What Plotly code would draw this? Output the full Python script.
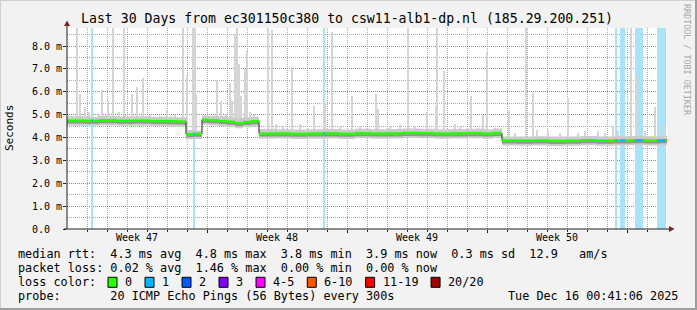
import numpy as np
import plotly.graph_objects as go

# ---------------- data ----------------
title_text = "Last 30 Days from ec301150c380 to csw11-alb1-dp.nl (185.29.200.251)"
y_tick_vals = [0, 1, 2, 3, 4, 5, 6, 7, 8]
y_tick_text = ["0.0\u00a0\u00a0", "1.0 m", "2.0 m", "3.0 m", "4.0 m", "5.0 m", "6.0 m", "7.0 m", "8.0 m"]
week_pos = [3.5, 10.5, 17.5, 24.5]
week_labels = ["Week 47", "Week 48", "Week 49", "Week 50"]
week_lines = [7, 14, 21, 28]
day_lines = [d for d in range(1, 30) if d % 7 != 0]

# median rtt (ms) as step changes, day offsets from start of range
med_day = [0, 0.8, 1.6, 2.5, 3.4, 4.2, 5.0, 5.5,
           5.95, 6.3,
           6.75, 7.1, 7.6, 8.0, 8.4, 8.8, 9.2,
           9.6, 10.4, 11.2, 12.0, 12.8, 13.6, 14.4, 15.2, 16.0, 16.8, 17.6, 18.4, 19.2, 20.0, 20.8, 21.3,
           21.75, 22.5, 23.3, 24.1, 24.9, 25.7, 26.5, 27.3, 28.1, 28.9, 29.7,
           30]
med_ms = [4.74, 4.73, 4.75, 4.73, 4.74, 4.72, 4.71, 4.70,
          4.14, 4.16,
          4.78, 4.75, 4.72, 4.69, 4.63, 4.68, 4.71,
          4.17, 4.18, 4.16, 4.17, 4.18, 4.16, 4.19, 4.17, 4.18, 4.20, 4.19, 4.17, 4.18, 4.19, 4.17, 4.20,
          3.87, 3.86, 3.87, 3.85, 3.86, 3.88, 3.86, 3.87, 3.88, 3.87, 3.88,
          3.88]
smoke_hi = [4.93, 4.91, 4.94, 4.92, 4.93, 4.91, 4.89, 4.89,
            4.33, 4.31,
            4.96, 4.94, 4.93, 4.89, 4.86, 4.89, 4.91,
            4.37, 4.36, 4.35, 4.36, 4.37, 4.35, 4.38, 4.36, 4.37, 4.39, 4.38, 4.36, 4.37, 4.38, 4.36, 4.39,
            4.05, 4.04, 4.06, 4.04, 4.05, 4.07, 4.05, 4.06, 4.07, 4.06, 4.08,
            4.08]
smoke_lo = [4.52, 4.51, 4.53, 4.51, 4.52, 4.50, 4.49, 4.48,
            3.92, 3.94,
            4.56, 4.53, 4.50, 4.47, 4.41, 4.46, 4.49,
            3.95, 3.96, 3.94, 3.95, 3.96, 3.94, 3.97, 3.95, 3.96, 3.98, 3.97, 3.95, 3.96, 3.97, 3.95, 3.98,
            3.65, 3.64, 3.65, 3.63, 3.64, 3.66, 3.64, 3.65, 3.66, 3.65, 3.66,
            3.66]
dark_lo = [4.61, 4.60, 4.62, 4.60, 4.61, 4.59, 4.58, 4.57,
           4.01, 4.03,
           4.65, 4.62, 4.59, 4.56, 4.50, 4.55, 4.58,
           4.04, 4.05, 4.03, 4.04, 4.05, 4.03, 4.06, 4.04, 4.05, 4.07, 4.06, 4.04, 4.05, 4.06, 4.04, 4.07,
           3.74, 3.73, 3.74, 3.72, 3.73, 3.75, 3.73, 3.74, 3.75, 3.74, 3.75,
           3.75]

# max-ping spikes (day, top ms)
spike_day = [0.5, 0.65, 0.93, 1.1, 1.6, 1.75, 1.95, 2.05, 2.3, 2.6, 2.85, 2.9, 3.25, 3.5, 3.8, 4.15,
             4.65, 5.0, 5.2, 5.4, 5.8, 6.0, 6.3, 6.4, 6.45, 7.15, 7.5, 7.7, 7.95, 8.15, 8.25, 8.4,
             8.5, 8.6, 8.7, 8.9, 9.0, 9.15, 9.35, 10.05, 10.25, 10.45, 10.8, 11.25, 11.65, 12.35,
             12.9, 13.25, 13.65, 14.25, 14.65, 15.45, 15.55, 16.15, 16.65, 17.05, 17.4, 18.0, 18.45,
             18.5, 18.85, 19.4, 19.65, 20.2, 20.55, 20.8, 21.0, 21.4, 22.1, 22.4, 22.95, 23.3, 23.5,
             24.05, 24.65, 25.05, 25.55, 25.9, 26.55, 26.9, 27.3, 27.55, 28.2, 28.45, 28.9, 29.4, 29.75]
spike_ms = [9.0, 5.9, 5.35, 5.1, 5.05, 6.1, 5.0, 5.6, 9.0, 5.1, 9.0, 5.0, 5.9, 6.2, 6.6, 5.0,
            4.95, 5.2, 4.95, 5.0, 9.0, 6.75, 9.0, 9.0, 5.9, 4.9, 6.5, 5.6, 5.0, 6.4, 5.6, 8.5,
            9.0, 7.2, 5.8, 7.0, 7.8, 5.1, 5.0, 9.0, 8.7, 4.6, 4.5, 7.1, 4.6, 5.4,
            5.5, 8.6, 4.5, 5.8, 4.5, 5.9, 5.25, 4.5, 4.6, 9.0, 4.5, 5.1, 5.4,
            9.0, 6.9, 4.6, 4.5, 5.8, 4.4, 5.0, 7.7, 4.4, 5.15, 4.2, 9.0, 5.95, 4.35,
            4.3, 4.2, 5.75, 4.2, 4.3, 4.3, 4.2, 4.5, 4.3, 9.0, 6.7, 4.3, 5.35, 4.6]

# periods with 1/20 packet loss
loss_start = [1.22, 6.32, 12.82, 27.42, 27.65, 28.42, 29.50]
loss_end = [1.29, 6.39, 12.89, 27.52, 27.92, 28.79, 29.94]

rtt_vals = [4.3, 4.8, 3.8, 3.9, 0.3]
rtt_names = ["avg", "max", "min", "now", "sd"]
am_s = 12.9
pl_vals = [0.02, 1.46, 0.00, 0.00]
pl_names = ["avg", "max", "min", "now"]
loss_labels = ["0", "1", "2", "3", "4-5", "6-10", "11-19", "20/20"]
loss_colors = ["#26ff00", "#00b8ff", "#0059ff", "#7e00ff", "#ff00ff", "#ff5500", "#ff0000", "#a10000"]
probe_text = "20 ICMP Echo Pings (56 Bytes) every 300s"
stamp_text = "Tue Dec 16 00:41:06 2025"

# ---------------- layout helpers ----------------
FONT = "DejaVu Sans Mono"
W, H = 697, 310
L, R, T, B = 67, 667, 28, 229
YMAX = 8.79


def px(xp):
    return (xp - L) / (R - L)


def py(yp):
    return (B - yp) / (B - T)


def nb(s):
    return s.replace(" ", "\u00a0")


med_day_a = np.array(med_day)
med_ms_a = np.array(med_ms)


def med_at(d):
    i = np.searchsorted(med_day_a, d, side="right") - 1
    return med_ms_a[np.clip(i, 0, len(med_ms_a) - 1)]


fig = go.Figure()

# loss background columns
ls = np.array(loss_start)
le = np.array(loss_end)
fig.add_trace(go.Bar(x=(ls + le) / 2, y=[YMAX] * len(ls), base=0, width=le - ls,
                     marker=dict(color="#a9e3f9", line=dict(width=0)), hoverinfo="skip"))

# spikes
sd = np.array(spike_day)
base = med_at(sd)
fig.add_trace(go.Bar(x=sd, y=np.array(spike_ms) - base, base=base, width=0.075,
                     marker=dict(color="#d5d5d5", line=dict(width=0)), hoverinfo="skip"))

# smoke
fig.add_trace(go.Scatter(x=med_day, y=smoke_lo, mode="lines", line=dict(width=0, shape="hv"),
                         hoverinfo="skip"))
fig.add_trace(go.Scatter(x=med_day, y=smoke_hi, mode="lines", line=dict(width=0, shape="hv"),
                         fill="tonexty", fillcolor="#cbcbcb", hoverinfo="skip"))
fig.add_trace(go.Scatter(x=med_day, y=dark_lo, mode="lines", line=dict(width=0, shape="hv"),
                         hoverinfo="skip"))
fig.add_trace(go.Scatter(x=med_day, y=med_ms, mode="lines", line=dict(width=0, shape="hv"),
                         fill="tonexty", fillcolor="#939393", hoverinfo="skip"))

# median: dark step line, green horizontal parts on top
fig.add_trace(go.Scatter(x=med_day, y=med_ms, mode="lines",
                         line=dict(width=1, shape="hv", color="#222222"), hoverinfo="skip"))
gx, gy = [], []
for i in range(len(med_day) - 1):
    gx += [med_day[i], med_day[i + 1], None]
    gy += [med_ms[i], med_ms[i], None]
fig.add_trace(go.Scatter(x=gx, y=gy, mode="lines", line=dict(width=2.5, color=loss_colors[0]),
                         hoverinfo="skip"))
cx, cy = [], []
for a, b in zip(loss_start, loss_end):
    m = float(med_at(a))
    cx += [a, b, None]
    cy += [m, m, None]
fig.add_trace(go.Scatter(x=cx, y=cy, mode="lines", line=dict(width=2.5, color=loss_colors[1]),
                         hoverinfo="skip"))

GRID = "rgba(143,143,143,0.75)"
MGRID = "rgba(222,79,79,0.6)"

fig.update_layout(
    width=W, height=H, autosize=False,
    margin=dict(l=L, r=W - R, t=T, b=H - B, pad=0),
    paper_bgcolor="#f2f2f2", plot_bgcolor="#ffffff",
    showlegend=False, barmode="overlay", bargap=0,
    font=dict(family=FONT, size=10, color="#000000"),
    title=dict(text=title_text, x=347 / W, y=1 - 18 / H, xanchor="center", yanchor="middle",
               xref="container", yref="container",
               font=dict(family=FONT, size=13.2, color="#000000")),
    xaxis=dict(range=[0, 30], showgrid=False, zeroline=False, showline=False,
               tickvals=week_pos, ticktext=week_labels, showticklabels=False, ticks="",
               minor=dict(tickvals=day_lines, showgrid=True, gridcolor=GRID, griddash="1px,1px",
                          gridwidth=1, ticks="outside", ticklen=2, tickcolor="#1f1f1f")),
    xaxis2=dict(range=[0, 30], overlaying="x", side="bottom", tickvals=week_lines,
                showticklabels=False, showgrid=True, gridcolor=MGRID, griddash="1px,1px",
                gridwidth=1, zeroline=False, showline=False, ticks="outside", ticklen=3,
                tickcolor="#1f1f1f"),
    yaxis=dict(range=[0, YMAX], tickvals=y_tick_vals, ticktext=y_tick_text, showgrid=True,
               gridcolor=MGRID, griddash="1px,1px", gridwidth=1, zeroline=False, showline=False,
               ticks="outside", ticklen=3, tickcolor="#1f1f1f", ticklabelstandoff=-1,
               tickfont=dict(family=FONT, size=10, color="#000000"),
               minor=dict(dtick=0.5, showgrid=True, gridcolor=GRID, griddash="1px,1px", gridwidth=1)),
)
# dummy trace to activate xaxis2
fig.add_trace(go.Scatter(x=[0], y=[0], xaxis="x2", mode="markers", marker=dict(opacity=0),
                         hoverinfo="skip"))

shapes = []
AX = "#1f1f1f"
ARROW = "#801f1f"
shapes.append(dict(type="line", xref="paper", yref="paper", x0=px(L), x1=px(L), y0=py(B), y1=py(24),
                   line=dict(color=AX, width=1)))
shapes.append(dict(type="line", xref="paper", yref="paper", x0=px(L - 3), x1=px(670), y0=py(B), y1=py(B),
                   line=dict(color=AX, width=1)))
shapes.append(dict(type="path", xref="paper", yref="paper",
                   path=f"M {px(L)} {py(20.5)} L {px(L - 3)} {py(26)} L {px(L + 3)} {py(26)} Z",
                   fillcolor=ARROW, line=dict(width=0)))
shapes.append(dict(type="path", xref="paper", yref="paper",
                   path=f"M {px(674.5)} {py(B)} L {px(669)} {py(B - 3)} L {px(669)} {py(B + 3)} Z",
                   fillcolor=ARROW, line=dict(width=0)))
# frame
shapes.append(dict(type="line", xref="paper", yref="paper", x0=px(0), x1=px(W), y0=py(0.5), y1=py(0.5),
                   line=dict(color="#cfcfcf", width=1)))
shapes.append(dict(type="line", xref="paper", yref="paper", x0=px(0.5), x1=px(0.5), y0=py(0), y1=py(H),
                   line=dict(color="#cfcfcf", width=1)))
shapes.append(dict(type="line", xref="paper", yref="paper", x0=px(0), x1=px(W), y0=py(H - 1), y1=py(H - 1),
                   line=dict(color="#9e9e9e", width=2)))
shapes.append(dict(type="line", xref="paper", yref="paper", x0=px(W - 1), x1=px(W - 1), y0=py(0), y1=py(H),
                   line=dict(color="#9e9e9e", width=2)))

annotations = []


def txt(x, y, s, size=11.8, anchor="left", color="#000000", angle=0, xref="paper"):
    annotations.append(dict(x=x, y=y, xref=xref, yref="paper", text=nb(s), showarrow=False,
                            xanchor=anchor, yanchor="middle", textangle=angle,
                            font=dict(family=FONT, size=size, color=color)))


for p, lab in zip(week_pos, week_labels):
    txt(p, py(237.7), lab, size=10, anchor="center", xref="x")

txt(px(10), py(128), "Seconds", size=11, anchor="center", angle=-90)
txt(px(687), py(60), "RRDTOOL / TOBI OETIKER", size=8.4, anchor="center", angle=90, color="#a8a8a8")

row1 = "median rtt:  " + "  ".join(f"{v:.1f} ms {n}" for v, n in zip(rtt_vals, rtt_names)) + f"  {am_s:.1f}   am/s"
row2 = "packet loss: " + "  ".join(f"{v:.2f} % {n}" for v, n in zip(pl_vals, pl_names))
txt(px(16), py(254.3), row1)
txt(px(16), py(268.3), row2)
txt(px(16), py(282.3), "loss color:")
bx = 108.0
for lab, col in zip(loss_labels, loss_colors):
    shapes.append(dict(type="rect", xref="paper", yref="paper", x0=px(bx), x1=px(bx + 9),
                       y0=py(277.3), y1=py(287.3), fillcolor=col, line=dict(color="#000000", width=1)))
    txt(px(bx + 15), py(282.3), lab)
    bx += 29.9 + 7.11 * len(lab)
txt(px(16), py(296.3), "probe:       " + probe_text)
txt(px(680), py(296.3), stamp_text, anchor="right")

fig.update_layout(shapes=shapes, annotations=annotations)
fig.write_html("out.html")
